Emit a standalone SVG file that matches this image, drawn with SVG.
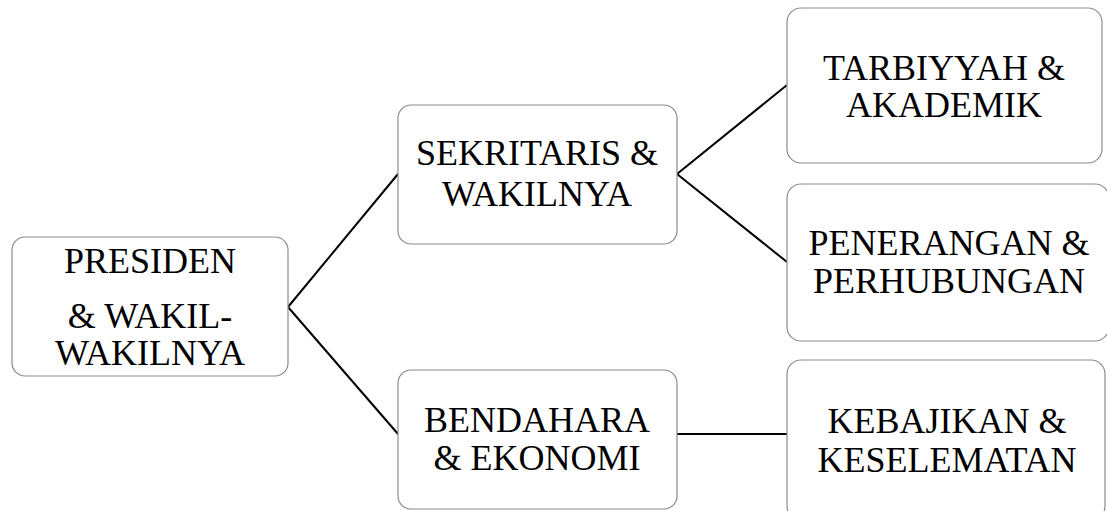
<svg xmlns="http://www.w3.org/2000/svg" width="1107" height="511" viewBox="0 0 1107 511">
<style>
.box{fill:#ffffff;stroke:#8c8c8c;stroke-width:1.2}
.t{font-family:"Liberation Serif","Times New Roman",serif;font-size:36px;fill:#000;text-anchor:middle}
.c{stroke:#000;stroke-width:2;fill:none}
</style>
<rect width="1107" height="511" fill="#ffffff"/>
<g id="connectors">
<line class="c" x1="288" y1="307" x2="398" y2="174"/>
<line class="c" x1="288" y1="307" x2="398" y2="434"/>
<line class="c" x1="677" y1="174" x2="787" y2="85"/>
<line class="c" x1="677" y1="174" x2="787" y2="262"/>
<line class="c" x1="677" y1="434" x2="787" y2="434"/>
</g>
<g id="presiden">
<rect class="box" x="12" y="237" width="276" height="139" rx="13"/>
<text class="t" x="150" y="273">PRESIDEN</text>
<text class="t" x="150" y="328">&amp; WAKIL-</text>
<text class="t" x="150" y="365">WAKILNYA</text>
</g>
<g id="sekritaris">
<rect class="box" x="398" y="105" width="279" height="139" rx="13"/>
<text class="t" x="537" y="165">SEKRITARIS &amp;</text>
<text class="t" x="537" y="206">WAKILNYA</text>
</g>
<g id="bendahara">
<rect class="box" x="398" y="370" width="279" height="139" rx="13"/>
<text class="t" x="537" y="432">BENDAHARA</text>
<text class="t" x="537" y="470">&amp; EKONOMI</text>
</g>
<g id="tarbiyyah">
<rect class="box" x="787" y="8" width="315" height="155" rx="14"/>
<text class="t" x="944" y="80">TARBIYYAH &amp;</text>
<text class="t" x="944" y="117">AKADEMIK</text>
</g>
<g id="penerangan">
<rect class="box" x="787" y="184" width="322" height="157" rx="14"/>
<text class="t" x="949" y="255">PENERANGAN &amp;</text>
<text class="t" x="949" y="293">PERHUBUNGAN</text>
</g>
<g id="kebajikan">
<rect class="box" x="787" y="360" width="318" height="160" rx="14"/>
<text class="t" x="947" y="433">KEBAJIKAN &amp;</text>
<text class="t" x="947" y="472">KESELEMATAN</text>
</g>
</svg>
